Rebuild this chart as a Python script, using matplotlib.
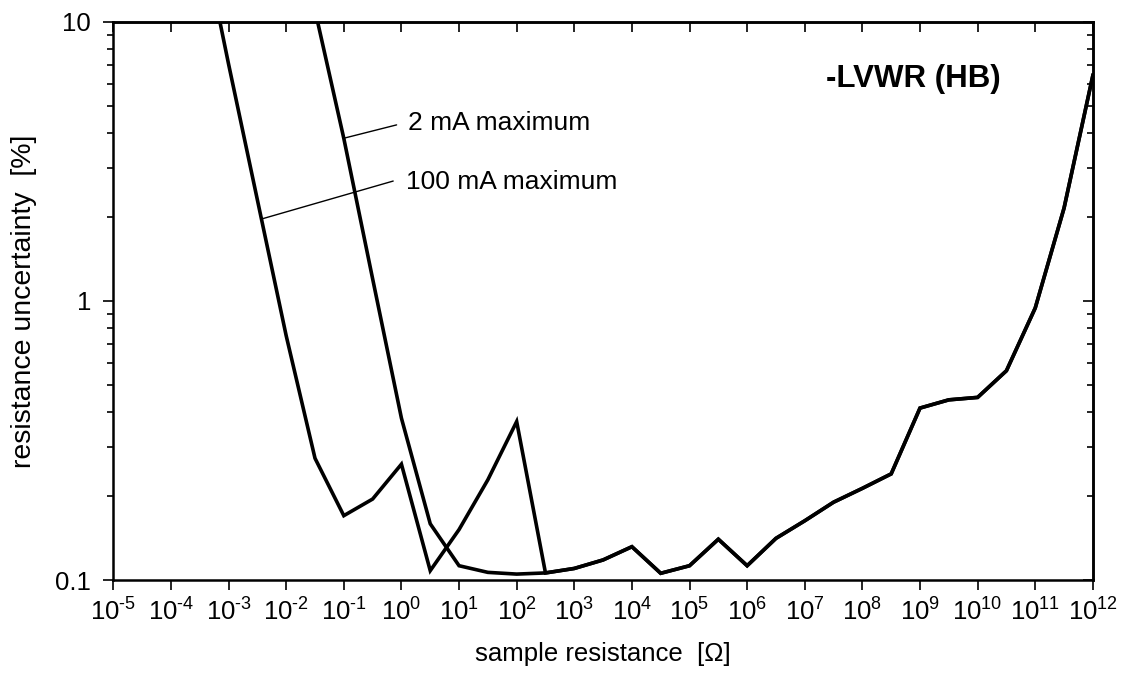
import matplotlib
matplotlib.use('Agg')
import matplotlib.pyplot as plt
import numpy as np

plt.rcParams['font.family'] = ['Liberation Sans', 'DejaVu Sans']
plt.rcParams['mathtext.fontset'] = 'custom'
plt.rcParams['mathtext.rm'] = 'Liberation Sans'
plt.rcParams['mathtext.it'] = 'Liberation Sans'
plt.rcParams['mathtext.default'] = 'regular'

# resistance in decades (log10 of ohms), half-decade steps
exp_100mA = [-3.5, -3, -2.5, -2, -1.5, -1, -0.5, 0, 0.5, 1, 1.5, 2, 2.5]
unc_100mA = [22.5, 7.05, 2.30, 0.75, 0.273, 0.170, 0.195, 0.260, 0.108, 0.1516, 0.2286, 0.3695, 0.106]

exp_2mA = [-1.5, -1, -0.5, 0, 0.5, 1, 1.5, 2, 2.5]
unc_2mA = [11.0, 3.82, 1.20, 0.380, 0.159, 0.1125, 0.1065, 0.105, 0.106]

# common part (both ranges identical above ~300 ohm)
exp_common = [2.5, 3, 3.5, 4, 4.5, 5, 5.5, 6, 6.5, 7, 7.5, 8, 8.5, 9, 9.5, 10, 10.5, 11, 11.5, 12]
unc_common = [0.106, 0.110, 0.118, 0.1316, 0.1057, 0.1125, 0.140, 0.1125, 0.141, 0.163,
              0.190, 0.213, 0.240, 0.413, 0.442, 0.451, 0.562, 0.943, 2.15, 6.42]

xtick_exp = list(range(-5, 13))
ytick_vals = [0.1, 1, 10]
ytick_labels = ['0.1', '1', '10']

fig = plt.figure(figsize=(11.21, 6.79), dpi=100)
ax = fig.add_axes([0.1011, 0.1458, 0.8738, 0.8222])

x100 = 10.0 ** np.array(exp_100mA + exp_common[1:])
y100 = np.array(unc_100mA + unc_common[1:])
x2 = 10.0 ** np.array(exp_2mA + exp_common[1:])
y2 = np.array(unc_2mA + unc_common[1:])

ax.plot(x100, y100, color='black', lw=2.6, solid_joinstyle='miter')
ax.plot(x2, y2, color='black', lw=2.6, solid_joinstyle='miter')

ax.set_xscale('log')
ax.set_yscale('log')
ax.set_xlim(1e-5, 1e12)
ax.set_ylim(0.1, 10)

ax.set_xticks([10.0 ** e for e in xtick_exp])
ax.set_xticklabels([r'$10^{\text{%d}}$' % e for e in xtick_exp])
ax.xaxis.set_minor_locator(matplotlib.ticker.NullLocator())
ax.set_yticks(ytick_vals)
ax.set_yticklabels(ytick_labels)
ax.yaxis.set_minor_locator(matplotlib.ticker.LogLocator(base=10, subs=np.arange(2, 10)))
ax.yaxis.set_minor_formatter(matplotlib.ticker.NullFormatter())

for s in ax.spines.values():
    s.set_linewidth(1.8)

ax.tick_params(axis='x', which='major', direction='out', length=7, width=1.2,
               labelsize=18.5, pad=6, top=False)
ax.tick_params(axis='y', which='major', direction='out', length=7, width=1.2,
               labelsize=18.5, pad=9)
ax.tick_params(axis='y', which='minor', direction='out', length=4, width=1.2)

# inward ticks on the top and right edges
sec_x = ax.secondary_xaxis('top')
sec_x.set_xticks([10.0 ** e for e in xtick_exp])
sec_x.xaxis.set_minor_locator(matplotlib.ticker.NullLocator())
sec_x.tick_params(direction='in', length=7, width=1.2, labeltop=False)
sec_x.spines['top'].set_linewidth(1.8)
sec_y = ax.secondary_yaxis('right')
sec_y.set_yticks(ytick_vals)
sec_y.yaxis.set_minor_locator(matplotlib.ticker.LogLocator(base=10, subs=np.arange(2, 10)))
sec_y.yaxis.set_minor_formatter(matplotlib.ticker.NullFormatter())
sec_y.tick_params(which='major', direction='in', length=7, width=1.2, labelright=False)
sec_y.tick_params(which='minor', direction='in', length=4, width=1.2)
sec_y.spines['right'].set_linewidth(1.8)

ax.set_xlabel('sample resistance  [Ω]', fontsize=18.5, labelpad=12)
ax.set_ylabel('resistance uncertainty  [%]', fontsize=20.5, labelpad=13)

# leader lines and labels
ax.annotate('', xy=(10 ** -1.010, 3.82), xytext=(10 ** -0.084, 4.27),
            arrowprops=dict(arrowstyle='-', lw=1.0, color='black', shrinkA=0, shrinkB=0))
ax.text(10 ** 0.117, 4.32, '2 mA maximum', fontsize=19, ha='left', va='center')
ax.annotate('', xy=(10 ** -2.426, 1.965), xytext=(10 ** -0.143, 2.687),
            arrowprops=dict(arrowstyle='-', lw=1.0, color='black', shrinkA=0, shrinkB=0))
ax.text(10 ** 0.077, 2.67, '100 mA maximum', fontsize=19, ha='left', va='center')

ax.text(0.728, 0.897, '-LVWR (HB)', transform=ax.transAxes, fontsize=22.5,
        fontweight='bold', ha='left', va='center')

fig.savefig('out.png', dpi=100)
